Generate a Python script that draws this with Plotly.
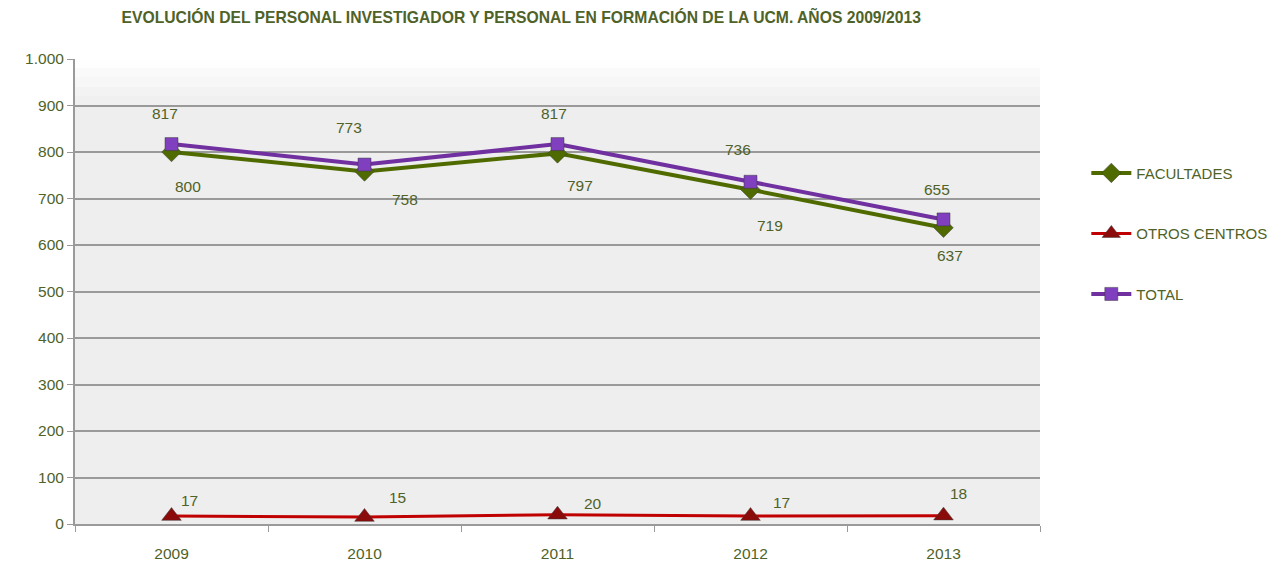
import plotly.graph_objects as go

years = [2009, 2010, 2011, 2012, 2013]
facultades = [800, 758, 797, 719, 637]
otros_centros = [17, 15, 20, 17, 18]
total = [817, 773, 817, 736, 655]
y_ticks = [0, 100, 200, 300, 400, 500, 600, 700, 800, 900, 1000]
title_text = "EVOLUCIÓN DEL PERSONAL INVESTIGADOR Y PERSONAL EN FORMACIÓN DE LA UCM. AÑOS 2009/2013"

TXT = "#4F6228"
GRID = "#9A9A9A"

fig = go.Figure()

series = [
    ("FACULTADES", facultades, "#4F6B00", "#4F6B00", "diamond", 15, 4),
    ("OTROS CENTROS", otros_centros, "#C00000", "#8B0A0A", "triangle-up", 17, 3),
    ("TOTAL", total, "#7030A0", "#7F3FBF", "square", 13, 4),
]
for i, (name, vals, lc, mc, sym, ms, lw) in enumerate(series):
    fig.add_trace(go.Scatter(
        x=years, y=vals, name=name, mode="lines+markers",
        line=dict(color=lc, width=lw),
        marker=dict(symbol=sym, size=ms, color=mc, line=dict(color="#3a3a3a", width=0.5)),
        legendgroup=name, hoverinfo="x+y+name",
    ))

# label offsets (pixels) per series
offsets = {
    "FACULTADES": [(16, -34), (40, -28), (22, -32), (19, -36), (6, -28)],
    "OTROS CENTROS": [(18, 16), (33, 20), (35, 11), (31, 14), (15, 22)],
    "TOTAL": [(-7, 31), (-16, 37), (-4, 31), (-13, 32), (-7, 30)],
}
for name, vals, *_ in series:
    for j, (yr, v) in enumerate(zip(years, vals)):
        dx, dy = offsets[name][j]
        fig.add_annotation(x=yr, y=v, text=str(v), showarrow=False,
                           xshift=dx, yshift=dy,
                           font=dict(family="Liberation Sans, Arial", size=15.5, color=TXT))

# light upper band of the 3D wall (gradient)
for k, op in enumerate([0.9, 0.7, 0.5, 0.3, 0.15]):
    fig.add_shape(type="rect", xref="paper", yref="paper", x0=0, x1=1,
                  y0=1 - 0.02 * (k + 1), y1=1 - 0.02 * k,
                  fillcolor=f"rgba(255,255,255,{op})", line_width=0, layer="below")

fig.update_layout(
    width=1283, height=566,
    margin=dict(l=67, r=251, t=51, b=50),
    paper_bgcolor="white", plot_bgcolor="#EEEEEE",
    separators=",.",
    title=dict(text="<b>" + title_text + "</b>", x=0.40, xanchor="center", y=0.984, yanchor="middle",
               font=dict(family="Liberation Sans, Arial", size=15.7, color=TXT)),
    font=dict(family="Liberation Sans, Arial", size=15.5, color=TXT),
    showlegend=True,
    legend=dict(x=1.048, y=0.79, xanchor="left", yanchor="top",
                font=dict(size=15, color=TXT), tracegroupgap=38,
                bgcolor="rgba(0,0,0,0)", itemwidth=40),
    hovermode="closest",
)
fig.update_xaxes(range=[2008.5, 2013.5], tickvals=years, tickformat="d", ticks="",
                 minor=dict(tick0=2008.5, dtick=1, ticks="outside", ticklen=6, tickcolor=GRID, showgrid=False),
                 showline=True, linecolor=GRID, linewidth=2, ticklabelstandoff=14,
                 showgrid=False, zeroline=False, tickfont=dict(size=15.5, color=TXT))
fig.update_yaxes(range=[0, 1000], tickvals=y_ticks, tickformat=",d", ticks="outside", ticklen=6,
                 tickcolor=GRID, showline=True, linecolor=GRID, linewidth=2,
                 showgrid=True, gridcolor=GRID, gridwidth=2, zeroline=False,
                 tickfont=dict(size=15.5, color=TXT))

fig.write_html("out.html")
